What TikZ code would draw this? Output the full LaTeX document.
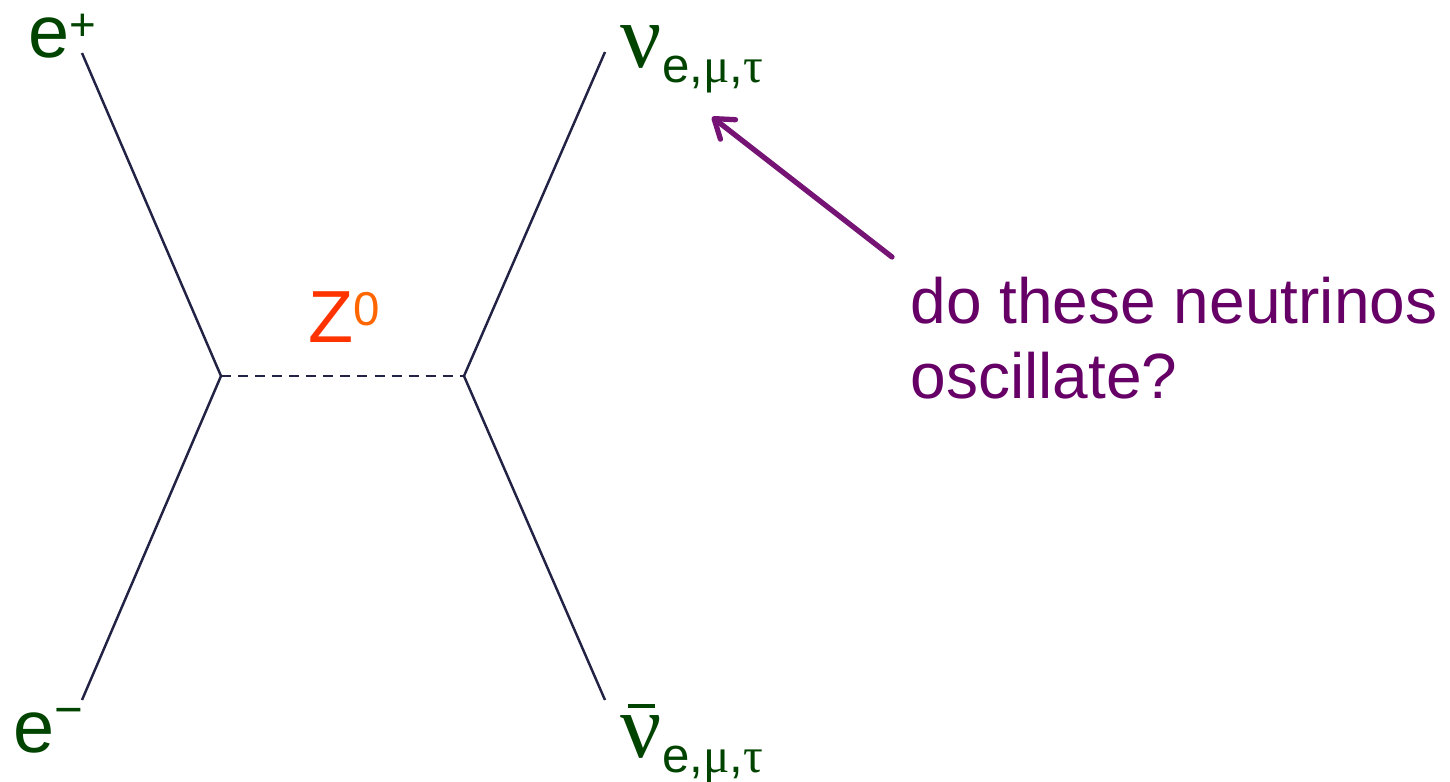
\documentclass[tikz,border=0pt]{standalone}
\usepackage{fontspec}
\setmainfont{Liberation Sans}
\newfontfamily\grfont{Liberation Serif}
\usetikzlibrary{arrows.meta}
\definecolor{lineblue}{RGB}{34,34,68}
\definecolor{labelgreen}{RGB}{0,68,0}
\definecolor{zred}{RGB}{255,51,0}
\definecolor{zorange}{RGB}{255,102,0}
\definecolor{askpurple}{RGB}{102,0,102}
\definecolor{arrowpurple}{RGB}{117,20,117}
\tikzset{
  prop/.style={draw=lineblue,line width=0.7pt},
  lbl/.style={inner sep=0pt,anchor=base west,text=labelgreen,font=\fontsize{21}{21}\selectfont},
}
\newcommand{\nuglyph}{{\grfont\fontsize{26}{26}\selectfont ν}}
\newcommand{\flav}{\raisebox{-4.5pt}{\fontsize{14}{14}\selectfont e,{\grfont μ},{\grfont τ}}}

\begin{document}
\begin{tikzpicture}[x=0.01cm,y=-0.01cm]
  \useasboundingbox (0,0) rectangle (1450,781);
  % vertices and outer ends
  \coordinate (vl) at (221,376);
  \coordinate (vr) at (464,376);
  \coordinate (ep) at (82,53);
  \coordinate (em) at (82,700);
  \coordinate (nu) at (605,52);
  \coordinate (nub) at (605,700);
  \draw[prop] (ep) -- (vl) -- (em);
  \draw[prop] (nu) -- (vr) -- (nub);
  \draw[prop,dash pattern=on 2.85pt off 2pt] (vl) -- (vr);
  % particle labels
  \node[lbl] (epl) at (28,57) {e\raisebox{4.8pt}{\fontsize{13}{13}\selectfont +}};
  \node[lbl] (eml) at (13,752) {e\raisebox{7.3pt}{\fontsize{14}{14}\selectfont −}};
  \node[lbl] (nul) at (620,67) {\nuglyph\flav};
  \node[lbl] (nubl) at (620,757) {\rlap{\hspace{2pt}\rule[14pt]{7.7pt}{1.1pt}}\nuglyph\flav};
  \node[lbl,text=zred] (zl) at (308,342) {Z\raisebox{4.8pt}{\fontsize{13.5}{13.5}\selectfont\color{zorange}0}};
  % question
  \node[inner sep=0pt,anchor=base west,align=left,text=askpurple,
    font=\fontsize{18.2}{21.3}\selectfont] (ask) at (910,398) {do these neutrinos\\oscillate?};
  \coordinate (tail) at (892,257);
  \coordinate (tip) at (712,117);
  \draw[arrowpurple,line width=1.5pt,line cap=round,
    -{Straight Barb[length=5pt,width=7pt,round]}] (tail) -- (tip);
\end{tikzpicture}
\end{document}
